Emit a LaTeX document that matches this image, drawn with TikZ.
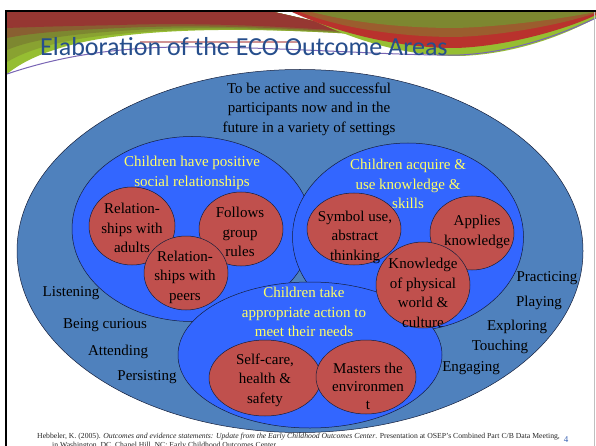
\documentclass[tikz,border=0pt]{standalone}
\usepackage{fontspec}
\setmainfont{Liberation Serif}
\newfontfamily\titlefont{Carlito}
\usetikzlibrary{shapes.geometric}

\definecolor{outerblue}{RGB}{79,129,189}
\definecolor{brightblue}{RGB}{51,102,255}
\definecolor{redfill}{RGB}{192,80,77}
\definecolor{yel}{RGB}{255,255,102}
\definecolor{edge}{RGB}{20,30,60}
\definecolor{titleblue}{RGB}{38,78,140}
\definecolor{hdred}{RGB}{150,55,50}
\definecolor{hdolive}{RGB}{125,135,48}
\definecolor{hdlime}{RGB}{150,190,50}
\definecolor{hdbrightred}{RGB}{185,50,45}
\definecolor{decopurple}{RGB}{120,100,180}
\definecolor{pagenum}{RGB}{60,100,180}

\begin{document}
\begin{tikzpicture}[x=1pt,y=-1pt,
  shapebox/.style={ellipse, draw=edge, line width=0.5pt, inner sep=0pt},
  outerarea/.style={shapebox, fill=outerblue},
  area/.style={shapebox, fill=brightblue},
  skill/.style={shapebox, fill=redfill},
  bodytext/.style={font=\fontsize{15}{19.5}\selectfont, align=center, inner sep=0pt, text=black},
  areatext/.style={bodytext, text=yel},
  behave/.style={font=\fontsize{15}{18}\selectfont, inner sep=0pt, text=black},
  citetext/.style={anchor=base west, font=\fontsize{7.7}{9}\selectfont, inner sep=0pt, text=black!85},
]
\useasboundingbox (0,0) rectangle (596,446);
\clip (0,0) rectangle (596,446);
\fill[white] (0,0) rectangle (596,446);

% header: left swoosh, layered from lime (bottom) to red (top)
\fill[hdlime] (7,12) -- (274,12) .. controls (310,20) and (350,30) .. (385,36)
  .. controls (300,30) and (200,26) .. (120,36) .. controls (70,42) and (30,55) .. (7,74) -- cycle;
\fill[hdlime!50!hdolive] (7,12) -- (274,12) .. controls (310,20) and (350,30) .. (385,36)
  .. controls (300,30) and (200,26) .. (120,34) .. controls (70,38) and (30,48) .. (7,62) -- cycle;
\fill[hdolive] (7,12) -- (274,12) .. controls (310,20) and (350,30) .. (382,35.5)
  .. controls (300,29) and (200,25) .. (120,31) .. controls (70,34) and (30,40) .. (7,50) -- cycle;
\fill[hdolive!50!hdred] (7,12) -- (274,12) .. controls (310,20) and (345,29) .. (377,34.5)
  .. controls (300,28) and (200,24) .. (120,28) .. controls (70,30) and (30,33) .. (7,38) -- cycle;
\fill[hdred] (7,12) -- (274,12) .. controls (310,20) and (340,28) .. (370,33)
  .. controls (300,27) and (200,22) .. (120,25) .. controls (70,26) and (30,27) .. (7,28) -- cycle;
% header: right swoosh
\fill[hdlime]
  (300,14) .. controls (360,44) and (410,56) .. (460,56)
  .. controls (520,54) and (570,32) .. (596,18) -- (596,12) -- cycle;
\fill[hdbrightred] (292,12) -- (596,12) -- (596,15)
  .. controls (560,32) and (500,47) .. (455,48)
  .. controls (400,48) and (340,34) .. (292,12) -- cycle;
\fill[hdolive!50!hdbrightred] (300,12) -- (596,12) -- (596,13)
  .. controls (560,25) and (500,36) .. (455,37)
  .. controls (400,37) and (340,28) .. (300,12) -- cycle;
\fill[hdolive] (312,12) -- (596,12)
  .. controls (560,19) and (500,27) .. (455,28)
  .. controls (400,28) and (350,22) .. (312,12) -- cycle;
\draw[decopurple, line width=1pt]
  (7,74) .. controls (60,56) and (120,46) .. (200,47)
  .. controls (300,48) and (400,56) .. (460,55)
  .. controls (520,52) and (570,30) .. (596,18);
\draw[red!40!gray, line width=1.2pt, opacity=0.6] (140,42) -- (300,42);

% slide frame
\draw[black, line width=2.5pt] (6,446) -- (6,11) -- (596,11);
\draw[gray!50, line width=0.6pt] (594,12) -- (594,446);

\node[anchor=base west, font=\titlefont\fontsize{26}{30}\selectfont, text=titleblue, inner sep=0pt] (title) at (40,56) {Elaboration of the ECO Outcome Areas};

% ellipses
\node[outerarea, minimum width=566pt, minimum height=363pt] (outer) at (300,251) {};
\node[area, minimum width=240pt, minimum height=185pt] (social) at (192,229) {};
\node[area, minimum width=231pt, minimum height=188pt] (knowarea) at (408,237) {};
\node[skill, minimum width=86pt, minimum height=78pt] (adults) at (132,226) {};
\node[skill, minimum width=84pt, minimum height=74pt] (rules) at (241,229) {};
\node[skill, minimum width=84pt, minimum height=74pt] (peers) at (186,273) {};
\node[skill, minimum width=94pt, minimum height=72pt] (symbol) at (354,229) {};
\node[skill, minimum width=84pt, minimum height=74pt] (applies) at (472,233) {};
\node[area, minimum width=264pt, minimum height=146pt] (action) at (310,355) {};
\node[skill, minimum width=94pt, minimum height=86pt] (physical) at (423,285) {};
\node[skill, minimum width=112pt, minimum height=76pt] (selfcare) at (265,378) {};
\node[skill, minimum width=100pt, minimum height=74pt] (masters) at (366,377) {};

% texts
\node[bodytext] (goal) at (309,109) {To be active and successful\\participants now and in the\\future in a variety of settings};
\node[areatext] (socialtxt) at (192,173) {Children have positive\\social relationships};
\node[areatext] (knowtxt) at (408,184) {Children acquire \&\\use knowledge \&\\skills};
\node[areatext] (actiontxt) at (304,312) {Children take\\appropriate action to\\meet their needs};

\node[bodytext] (adultstxt) at (132,228) {Relation-\\ships with\\adults};
\node[bodytext] (rulestxt) at (240,232) {Follows\\group\\rules};
\node[bodytext] (peerstxt) at (185,277) {Relation-\\ships with\\peers};
\node[bodytext] (symboltxt) at (355,237) {Symbol use,\\abstract\\thinking};
\node[bodytext] (appliestxt) at (477,232) {Applies\\knowledge};
\node[bodytext] (physicaltxt) at (423,293) {Knowledge\\of physical\\world \&\\culture};
\node[bodytext] (selfcaretxt) at (265,380) {Self-care,\\health \&\\safety};
\node[bodytext, font=\fontsize{15}{18}\selectfont] (masterstxt) at (368,386) {Masters the\\environmen\\t};

\node[behave] (listening) at (71,293) {Listening};
\node[behave] (curious) at (105,325) {Being curious};
\node[behave] (attending) at (118,352) {Attending};
\node[behave] (persisting) at (147,377) {Persisting};
\node[behave] (practicing) at (547,278) {Practicing};
\node[behave] (playing) at (539,303) {Playing};
\node[behave] (exploring) at (517,327) {Exploring};
\node[behave] (touching) at (500,347) {Touching};
\node[behave] (engaging) at (471,368) {Engaging};

% citation
\node[citetext] (cite1) at (37,438) {Hebbeler, K. (2005). \emph{Outcomes and evidence statements: Update from the Early Childhood Outcomes Center}. Presentation at OSEP's Combined Part C/B Data Meeting,};
\node[citetext] (cite2) at (52,447.5) {in Washington, DC. Chapel Hill, NC: Early Childhood Outcomes Center.};
\node[font=\fontsize{9}{9}\selectfont, text=pagenum, inner sep=0pt] (pnum) at (566,440) {4};
\end{tikzpicture}
\end{document}
